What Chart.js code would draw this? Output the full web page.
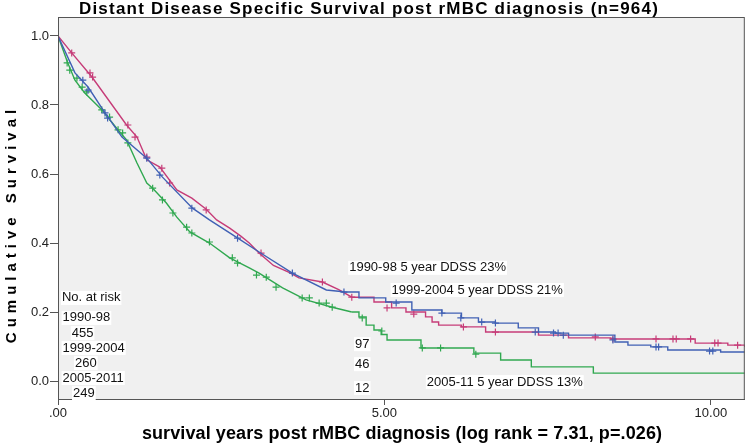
<!DOCTYPE html>
<html>
<head>
<meta charset="utf-8">
<script src="https://cdn.jsdelivr.net/npm/chart.js@4.4.0/dist/chart.umd.min.js"></script>
<style>
  html, body { margin: 0; padding: 0; background: #fff; }
  #wrap { width: 750px; height: 443px; }
</style>
</head>
<body>
<div id="wrap"><canvas id="km"></canvas></div>
<script>
// survival curves (years, cumulative survival)
const t9098 = [0, 0.21, 0.52, 1.05, 1.21, 1.36, 1.56, 1.82, 2.05, 2.27, 2.43, 2.63, 2.80, 2.93, 3.08, 3.30, 3.54, 3.69, 4.05, 4.30, 4.50, 4.84, 5.11, 5.33, 5.63, 5.73, 5.83, 6.18, 6.55, 7.36, 7.82, 8.47, 9.76, 10.26, 10.52]
const s9098 = [1.0, 0.951, 0.881, 0.742, 0.707, 0.641, 0.620, 0.554, 0.530, 0.498, 0.467, 0.443, 0.420, 0.400, 0.371, 0.335, 0.315, 0.299, 0.287, 0.265, 0.243, 0.229, 0.212, 0.200, 0.186, 0.171, 0.162, 0.157, 0.142, 0.133, 0.125, 0.122, 0.110, 0.104, 0.099]

const t9904 = [0, 0.26, 0.46, 0.72, 0.98, 1.36, 1.60, 2.06, 2.32, 2.73, 3.08, 3.59, 4.11, 4.41, 4.61, 5.02, 5.42, 5.88, 6.18, 6.44, 6.70, 7.05, 7.36, 7.62, 7.82, 8.53, 8.73, 9.08, 9.34, 10.15, 10.52]
const s9904 = [1.0, 0.893, 0.852, 0.777, 0.707, 0.646, 0.591, 0.501, 0.467, 0.417, 0.374, 0.313, 0.264, 0.258, 0.241, 0.229, 0.206, 0.197, 0.183, 0.171, 0.168, 0.154, 0.142, 0.139, 0.133, 0.113, 0.104, 0.099, 0.090, 0.084, 0.084]

const t0511 = [0, 0.15, 0.26, 0.41, 0.67, 0.92, 1.05, 1.21, 1.36, 1.45, 1.66, 1.82, 2.02, 2.32, 2.63, 2.93, 3.08, 3.44, 3.80, 4.20, 4.50, 4.61, 4.72, 4.84, 4.95, 5.04, 5.56, 6.37, 6.78, 7.25, 8.20, 10.52]
const s0511 = [1.0, 0.922, 0.872, 0.835, 0.786, 0.728, 0.699, 0.632, 0.574, 0.559, 0.516, 0.475, 0.432, 0.400, 0.357, 0.328, 0.313, 0.270, 0.235, 0.214, 0.200, 0.186, 0.162, 0.148, 0.135, 0.119, 0.096, 0.081, 0.061, 0.041, 0.023, 0.023]

// censored cases (+)
const c9098T = [0.21, 0.49, 0.53, 1.07, 1.18, 1.36, 1.59, 1.71, 2.27, 3.11, 4.05, 4.50, 5.04, 5.45, 6.21, 6.70, 8.23, 8.50, 9.16, 9.42, 9.47, 9.69, 10.06, 10.11, 10.41]
const c9098S = [0.951, 0.893, 0.881, 0.742, 0.707, 0.649, 0.617, 0.574, 0.496, 0.371, 0.287, 0.243, 0.212, 0.194, 0.157, 0.142, 0.128, 0.122, 0.122, 0.122, 0.122, 0.122, 0.110, 0.110, 0.104]
const c9904T = [0.38, 0.46, 0.72, 0.76, 1.36, 1.56, 2.05, 2.75, 3.59, 4.38, 5.18, 5.88, 6.17, 6.49, 6.70, 7.31, 7.59, 7.66, 7.74, 8.50, 9.16, 9.20, 9.98, 10.03]
const c9904S = [0.872, 0.843, 0.777, 0.762, 0.646, 0.597, 0.501, 0.414, 0.313, 0.258, 0.226, 0.197, 0.183, 0.171, 0.168, 0.142, 0.139, 0.139, 0.133, 0.119, 0.099, 0.099, 0.087, 0.087]
const c0511T = [0.14, 0.18, 0.29, 0.37, 0.44, 0.67, 0.79, 0.92, 0.99, 1.07, 1.45, 1.60, 1.76, 1.97, 2.05, 2.32, 2.67, 2.75, 3.04, 3.19, 3.34, 3.74, 3.85, 4.00, 4.11, 4.20, 4.66, 4.96, 5.58, 5.86, 6.40]
const c0511S = [0.922, 0.901, 0.878, 0.852, 0.838, 0.786, 0.765, 0.728, 0.719, 0.690, 0.559, 0.525, 0.487, 0.446, 0.429, 0.403, 0.357, 0.342, 0.307, 0.301, 0.272, 0.241, 0.241, 0.226, 0.226, 0.214, 0.183, 0.145, 0.096, 0.096, 0.078]

const xTicks = [0, 5, 10]
const yTicks = [0, 0.2, 0.4, 0.6, 0.8, 1.0]

// numbers at risk and 5 year DDSS
const riskGroups = ["1990-98", "1999-2004", "2005-2011"]
const riskStart = [455, 260, 249]
const riskFive = [97, 46, 12]
const ddssNames = ["1990-98", "1999-2004", "2005-11"]
const ddssFive = [23, 21, 13]

const colores = ["#c63c78", "#4060b4", "#30a850"]
const STEP_FROM = 4.5 // dense part drawn as plain line, sparse part as steps

function puntos(ts, ss) {
    return ts.map((t, i) => ({x: t, y: ss[i]}))
}

function curvas(ts, ss, cT, cS, color) {
    const todos = puntos(ts, ss)
    let corte = ts.findIndex(t => t > STEP_FROM) - 1
    const temprano = todos.slice(0, corte + 1)
    const tarde = todos.slice(corte)
    return [
        {data: temprano, borderColor: color, borderWidth: 1.4, pointRadius: 0, stepped: false, tension: 0},
        {data: tarde, borderColor: color, borderWidth: 1.4, pointRadius: 0, stepped: true},
        {data: puntos(cT, cS), showLine: false, pointStyle: "cross", pointRadius: 3.5,
         borderColor: color, pointBorderWidth: 1.2, backgroundColor: color}
    ]
}

const datasets = [
    ...curvas(t9904, s9904, c9904T, c9904S, colores[1]),
    ...curvas(t9098, s9098, c9098T, c9098S, colores[0]),
    ...curvas(t0511, s0511, c0511T, c0511S, colores[2])
]

const FONT = '"Liberation Sans", Arial, sans-serif'

// text notes, in data units
const notas = [{text: "No. at risk", x: 0.06, y: 0.241}]
const grupoY = [0.183, 0.096, 0.009]
const cuentaY = [0.139, 0.052, -0.035]
const cincoY = [0.107, 0.049, -0.020]
const cuentaX = [0.21, 0.26, 0.23]
riskGroups.forEach((g, i) => {
    notas.push({text: g, x: 0.07, y: grupoY[i]})
    notas.push({text: String(riskStart[i]), x: cuentaX[i], y: cuentaY[i]})
    notas.push({text: String(riskFive[i]), x: 4.55, y: cincoY[i]})
})
const ddssPos = [[4.46, 0.328], [5.11, 0.264], [5.65, -0.003]]
ddssNames.forEach((g, i) => {
    notas.push({text: `${g} 5 year DDSS ${ddssFive[i]}%`, x: ddssPos[i][0], y: ddssPos[i][1]})
})

const fondoPlugin = {
    id: "fondo",
    beforeDatasetsDraw(chart) {
        const {ctx, chartArea: a} = chart
        ctx.save()
        ctx.fillStyle = "#f0f0f0"
        ctx.fillRect(a.left, a.top, a.right - a.left, a.bottom - a.top)
        ctx.restore()
    },
    afterDraw(chart) {
        const {ctx, chartArea: a, scales} = chart
        ctx.save()
        ctx.strokeStyle = "#555"
        ctx.lineWidth = 1
        ctx.strokeRect(a.left + 0.5, a.top + 0.5, a.right - a.left - 1, a.bottom - a.top)

        ctx.font = "13px " + FONT
        ctx.textBaseline = "middle"
        ctx.textAlign = "left"
        notas.forEach(n => {
            const px = scales.x.getPixelForValue(n.x)
            const py = scales.y.getPixelForValue(n.y)
            const w = ctx.measureText(n.text).width
            ctx.fillStyle = "#fff"
            ctx.fillRect(px - 1, py - 7, w + 2, 14)
            ctx.fillStyle = "#111"
            ctx.fillText(n.text, px, py)
        })

        // titles
        ctx.fillStyle = "#000"
        ctx.textAlign = "center"
        ctx.font = "bold 17px " + FONT
        ctx.letterSpacing = "1.2px"
        ctx.fillText("Distant Disease Specific Survival post rMBC diagnosis (n=964)", 369, 9)
        ctx.font = "bold 18px " + FONT
        ctx.letterSpacing = "0.1px"
        ctx.fillText("survival years post rMBC diagnosis (log rank = 7.31, p=.026)", 402, 434)

        ctx.translate(12, 224)
        ctx.rotate(-Math.PI / 2)
        ctx.font = "bold 15px " + FONT
        ctx.letterSpacing = "5px"
        ctx.fillText("Cumulative Survival", 0, 0)
        ctx.restore()
    }
}

const ctx = document.getElementById("km").getContext("2d")
window.myChart = new Chart(ctx, {
    type: "line",
    data: {datasets: datasets},
    plugins: [fondoPlugin],
    options: {
        responsive: true,
        maintainAspectRatio: false,
        animation: false,
        layout: {padding: {top: 17, right: 3, left: 0, bottom: 0}},
        plugins: {legend: {display: false}, tooltip: {enabled: false}},
        scales: {
            x: {
                type: "linear", min: 0, max: 10.52,
                afterBuildTicks: s => { s.ticks = xTicks.map(v => ({value: v})) },
                afterFit: s => { s.height = 44 },
                ticks: {
                    callback: v => v === 0 ? ".00" : v.toFixed(2),
                    font: {size: 13, family: FONT}, color: "#222", padding: 1, maxRotation: 0
                },
                grid: {drawOnChartArea: false, tickLength: 6, color: "#555"},
                border: {color: "#555"}
            },
            y: {
                type: "linear", min: -0.052, max: 1.055,
                afterBuildTicks: s => { s.ticks = yTicks.map(v => ({value: v})) },
                afterFit: s => { s.width = 58 },
                ticks: {
                    callback: v => v.toFixed(1),
                    font: {size: 13, family: FONT}, color: "#222", padding: 1
                },
                grid: {drawOnChartArea: false, tickLength: 8, color: "#555"},
                border: {color: "#555"}
            }
        }
    }
})
</script>
</body>
</html>
